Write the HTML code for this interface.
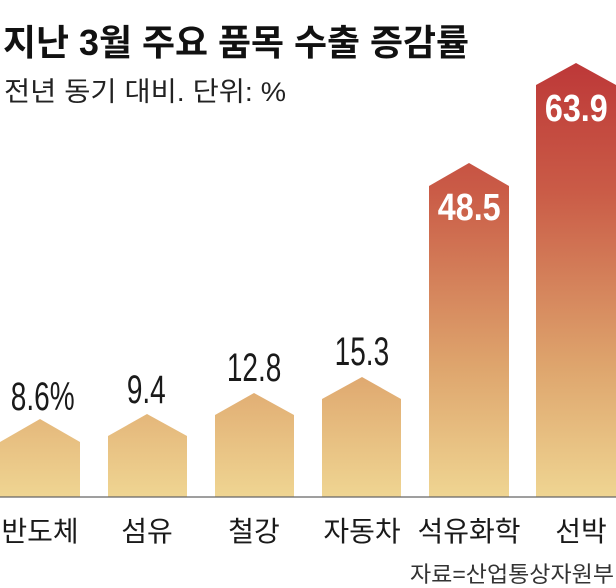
<!DOCTYPE html>
<html><head><meta charset="utf-8"><style>
html,body{margin:0;padding:0;background:#fff;}
svg{display:block;}
text{font-family:"Liberation Sans","Noto Sans CJK KR",sans-serif;}
</style></head><body>
<svg width="616" height="588" viewBox="0 0 616 588" xmlns="http://www.w3.org/2000/svg">
<defs>
<linearGradient id="g" gradientUnits="userSpaceOnUse" x1="0" y1="63" x2="0" y2="497">
<stop offset="0" stop-color="#bd3838"/>
<stop offset="0.3" stop-color="#ca5c47"/>
<stop offset="0.7" stop-color="#dea56d"/>
<stop offset="1" stop-color="#efd592"/>
</linearGradient>
</defs>
<text x="3" y="55" font-size="36" font-weight="bold" fill="#111" textLength="466" lengthAdjust="spacingAndGlyphs">지난 3월 주요 품목 수출 증감률</text>
<text x="4" y="101" font-size="27" fill="#222" textLength="282" lengthAdjust="spacingAndGlyphs">전년 동기 대비. 단위: %</text>
<polygon points="0,442 40,419 80,442 80,497 0,497" fill="url(#g)"/>
<polygon points="108,436 147,414 187,436 187,497 108,497" fill="url(#g)"/>
<polygon points="215,415 254,393 294,415 294,497 215,497" fill="url(#g)"/>
<polygon points="322,399 362,377 401,399 401,497 322,497" fill="url(#g)"/>
<polygon points="429,186 469,163 509,186 509,497 429,497" fill="url(#g)"/>
<polygon points="536,85 576,63 616,85 616,497 536,497" fill="url(#g)"/>
<line x1="0" y1="497" x2="616" y2="497" stroke="#666" stroke-width="1.2"/>
<g font-size="40" fill="#1a1a1a" text-anchor="middle" transform="scale(0.7,1)">
<text x="61" y="410">8.6%</text>
<text x="209" y="403">9.4</text>
<text x="363" y="381">12.8</text>
<text x="517" y="365">15.3</text>
</g>
<g font-size="38" font-weight="bold" fill="#fff" text-anchor="middle" transform="scale(0.85,1)">
<text x="552" y="220">48.5</text>
<text x="678" y="121">63.9</text>
</g>
<g font-size="28" fill="#1a1a1a" text-anchor="middle">
<text x="40" y="541">반도체</text>
<text x="147" y="541">섬유</text>
<text x="254" y="541">철강</text>
<text x="362" y="541">자동차</text>
<text x="469" y="541">석유화학</text>
<text x="581" y="541">선박</text>
</g>
<text x="614" y="582" font-size="22" fill="#333" text-anchor="end" textLength="204" lengthAdjust="spacingAndGlyphs">자료=산업통상자원부</text>
</svg>
</body></html>
